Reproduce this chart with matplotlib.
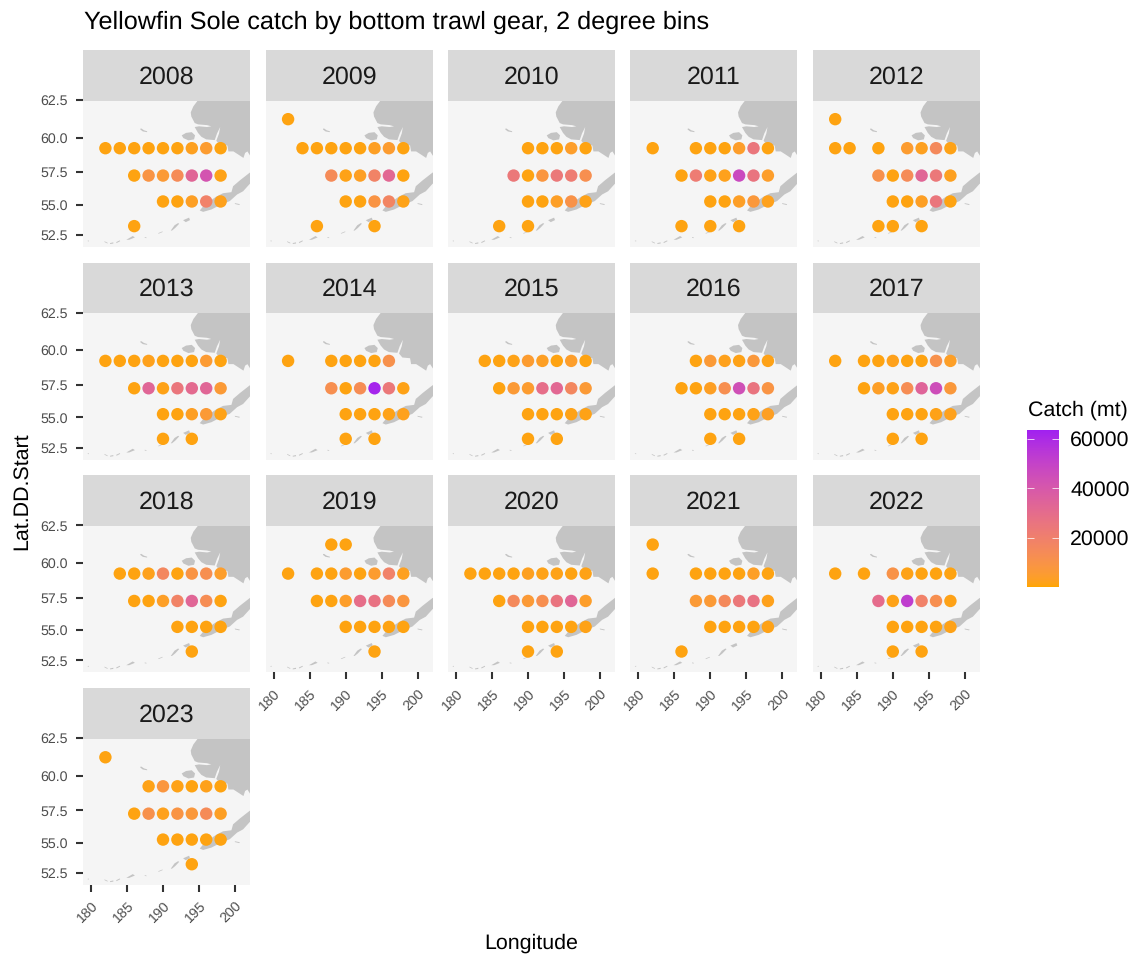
import numpy as np
import matplotlib
matplotlib.use('Agg')
import matplotlib.pyplot as plt
from matplotlib.cm import ScalarMappable
from matplotlib.colors import ListedColormap, Normalize
from matplotlib.patches import Polygon, Rectangle
from matplotlib.ticker import NullLocator

plt.rcParams['font.family'] = ['Liberation Sans', 'DejaVu Sans']
plt.rcParams['text.hinting'] = 'no_hinting'

n = np.nan
lons = [182, 184, 186, 188, 190, 192, 194, 196, 198]
lats = [61.25, 59.25, 57.25, 55.25, 53.25]
years = list(range(2008, 2024))
x_ticks = [180, 185, 190, 195, 200]
y_ticks = [52.5, 55.0, 57.5, 60.0, 62.5]
bar_ticks = [20000, 40000, 60000]

# catch (mt), rows follow lats, columns follow lons
catch_2008 = [[n, n, n, n, n, n, n, n, n],
              [1000, 1000, 1000, 1000, 1000, 1000, 2500, 5000, 1000],
              [n, n, 1000, 9000, 6000, 14000, 33000, 42000, 1500],
              [n, n, n, n, 1000, 1000, 3000, 19000, 2000],
              [n, n, 1000, n, n, n, n, n, n]]
catch_2009 = [[1000, n, n, n, n, n, n, n, n],
              [n, 1000, 1000, 1000, 1000, 1000, 3000, 5000, 1000],
              [n, n, n, 14000, 1500, 3000, 18000, 32000, 1000],
              [n, n, n, n, 1000, 1000, 9000, 17000, 1500],
              [n, n, 1000, n, n, n, 1000, n, n]]
catch_2010 = [[n, n, n, n, n, n, n, n, n],
              [n, n, n, n, 1000, 1000, 1000, 4000, 1000],
              [n, n, n, 24000, 1000, 8000, 24000, 22000, 12000],
              [n, n, n, n, 1000, 1000, 3500, 10000, 1500],
              [n, n, 1000, n, 1000, n, n, n, n]]
catch_2011 = [[n, n, n, n, n, n, n, n, n],
              [1000, n, n, 1000, 1000, 1000, 4000, 25000, 1000],
              [n, n, 1000, 22000, 1500, 2000, 47000, 26000, 4000],
              [n, n, n, n, 1000, 1000, 3500, 7000, 2000],
              [n, n, 1000, n, 1000, n, 1000, n, n]]
catch_2012 = [[1000, n, n, n, n, n, n, n, n],
              [1000, 1000, n, 1000, n, 5000, 2500, 15000, 1500],
              [n, n, n, 11000, 1000, 14000, 33000, 24000, 2500],
              [n, n, n, n, 1000, 1000, 3000, 25000, 1000],
              [n, n, n, 1000, 1000, n, 1000, n, n]]
catch_2013 = [[n, n, n, n, n, n, n, n, n],
              [1000, 1000, 1000, 2000, 1000, 1000, 1000, 5500, 1000],
              [n, n, 1000, 33000, 1500, 25000, 31000, 33000, 6000],
              [n, n, n, n, 1000, 1000, 3000, 6000, 1500],
              [n, n, n, n, 1000, n, 1000, n, n]]
catch_2014 = [[n, n, n, n, n, n, n, n, n],
              [1000, n, n, 1000, 1000, 1000, 1000, 11000, n],
              [n, n, n, 12000, 1000, 13000, 62000, 24000, 1500],
              [n, n, n, n, 1000, 1000, 1000, 1500, 2000],
              [n, n, n, n, 1000, n, 1000, n, n]]
catch_2015 = [[n, n, n, n, n, n, n, n, n],
              [n, 1000, 1000, 1500, 5000, 3000, 1000, 4000, 1000],
              [n, n, 1000, 6000, 5000, 29000, 32000, 16000, 6000],
              [n, n, n, n, 1000, 1000, 1000, 1500, 1500],
              [n, n, n, n, 1000, n, 1000, n, n]]
catch_2016 = [[n, n, n, n, n, n, n, n, n],
              [n, n, n, 1000, 6000, 2000, 1500, 7000, 1500],
              [n, n, 1000, 1000, 3000, 12000, 44000, 26000, 9000],
              [n, n, n, n, 1000, 1000, 1000, 1500, 3000],
              [n, n, n, n, 1000, n, 1000, n, n]]
catch_2017 = [[n, n, n, n, n, n, n, n, n],
              [1000, n, 1000, 1000, 2000, 1000, 1000, 11000, 3500],
              [n, n, 1000, 3500, 1500, 13000, 34000, 45000, 7000],
              [n, n, n, n, 1000, 1000, 1000, 1500, 2000],
              [n, n, n, n, 1000, n, 1000, n, n]]
catch_2018 = [[n, n, n, n, n, n, n, n, n],
              [n, 1000, 1000, 2000, 16000, 1000, 9000, 12000, 4000],
              [n, n, 1000, 1000, 3500, 18000, 33000, 13000, 1000],
              [n, n, n, n, n, 1000, 1000, 1000, 1000],
              [n, n, n, n, n, n, 1000, n, n]]
catch_2019 = [[n, n, n, 1000, 1000, n, n, n, n],
              [1000, n, 1000, 1000, 5000, 1000, 5000, 19000, 2500],
              [n, n, 1000, 1000, 4000, 29000, 27000, 14000, 8000],
              [n, n, n, n, 1000, 1000, 1000, 1000, 1000],
              [n, n, n, n, n, n, 1000, n, n]]
catch_2020 = [[n, n, n, n, n, n, n, n, n],
              [1000, 1000, 1000, 1000, 2500, 1500, 1500, 1000, 1500],
              [n, n, 1000, 15000, 6000, 12000, 26000, 33000, 4000],
              [n, n, n, n, 1000, 1000, 1000, 1000, 1500],
              [n, n, n, n, 1000, n, 1000, n, n]]
catch_2021 = [[1000, n, n, n, n, n, n, n, n],
              [1000, n, n, 1000, 1000, 1000, 1000, 3500, 1000],
              [n, n, n, 6000, 6000, 15000, 24000, 27000, 2000],
              [n, n, n, n, 1000, 1000, 1000, 1000, 1500],
              [n, n, 1000, n, n, n, n, n, n]]
catch_2022 = [[n, n, n, n, n, n, n, n, n],
              [1000, n, 1000, n, 10000, 1500, 1000, 1000, 1000],
              [n, n, n, 30000, 1500, 52000, 19000, 12000, 1500],
              [n, n, n, n, 1000, 1000, 1000, 1000, 1500],
              [n, n, n, n, 1000, n, 1000, n, n]]
catch_2023 = [[1000, n, n, n, n, n, n, n, n],
              [n, n, n, 1500, 8000, 1500, 1000, 2000, 1000],
              [n, n, 1000, 11000, 2000, 9000, 7000, 14000, 3000],
              [n, n, n, n, 1000, 1000, 1000, 1000, 1000],
              [n, n, n, n, n, n, 1000, n, n]]
catches = [catch_2008, catch_2009, catch_2010, catch_2011, catch_2012, catch_2013,
           catch_2014, catch_2015, catch_2016, catch_2017, catch_2018, catch_2019,
           catch_2020, catch_2021, catch_2022, catch_2023]

# basemap, traced by eye as (lon, lat)
mainland = [(194.87, 63.5), (194.87, 62.5), (194.22, 62.1), (193.85, 61.7), (193.93, 61.43),
            (194.4, 60.99), (194.86, 60.9), (196.11, 60.85), (196.71, 60.77), (196.11, 60.72),
            (195.0, 60.77), (194.4, 60.72), (194.86, 60.32), (195.33, 60.05), (196.0, 59.87),
            (197.18, 59.82), (197.5, 60.28), (197.94, 60.72), (197.78, 60.28), (197.4, 59.77),
            (197.87, 59.49), (198.94, 59.44), (199.08, 59.02), (199.78, 59.02), (200.47, 58.79),
            (201.17, 58.55), (201.4, 58.91), (201.72, 59.02), (202.09, 58.72), (203.5, 58.7),
            (203.5, 63.5)]
nunivak = [(192.6, 60.15), (193.2, 60.32), (193.99, 60.37), (194.45, 60.15), (194.31, 59.87),
           (193.53, 59.8), (192.83, 59.96)]
st_matthew = [(186.86, 60.61), (187.0, 60.62), (187.35, 60.5), (187.8, 60.43), (187.79, 60.37),
              (187.2, 60.42), (186.85, 60.55)]
peninsula = [(203.0, 57.6), (203.0, 57.0), (202.05, 56.62), (201.12, 56.05), (200.29, 55.8),
             (199.27, 55.28), (198.11, 55.02), (196.72, 54.61), (195.57, 54.42), (195.1, 54.53),
             (195.8, 55.02), (197.42, 55.64), (198.34, 55.9), (199.5, 55.98), (199.73, 56.44),
             (200.66, 56.88), (202.05, 57.47)]
unimak = [(191.08, 52.88), (191.6, 53.32), (192.09, 53.5), (192.25, 53.45), (191.7, 53.1),
          (191.25, 52.88)]
unalaska = [(192.79, 53.74), (193.62, 53.95), (193.75, 53.75), (193.16, 53.58)]
umnak = [(189.32, 52.66), (189.92, 52.81), (189.95, 52.76), (189.4, 52.62)]
atka = [(184.9, 52.1), (185.8, 52.42), (186.1, 52.3), (185.3, 52.1)]
seguam = [(187.46, 52.33), (187.7, 52.3), (187.7, 52.24), (187.46, 52.27)]
adak_w = [(181.85, 51.98), (182.3, 51.85), (182.3, 51.78), (181.9, 51.9)]
adak_m = [(182.65, 51.82), (183.1, 51.88), (183.1, 51.78), (182.65, 51.74)]
adak_e = [(183.5, 51.9), (184.0, 52.05), (184.05, 51.98), (183.55, 51.82)]
kiska = [(179.5, 52.0), (179.7, 52.05), (179.7, 51.95)]
sanak = [(199.96, 55.12), (200.66, 55.04), (200.6, 54.97), (200.0, 55.05)]
land = [mainland, nunivak, st_matthew, peninsula, unimak, unalaska, umnak, atka, seguam,
        adak_w, adak_m, adak_e, kiska, sanak]


def mercator(lat):
    return np.arcsinh(np.tan(np.radians(lat)))


def inv_mercator(y):
    return np.degrees(np.arctan(np.sinh(y)))


def rgb_to_lab(rgb):
    c = np.array(rgb) / 255
    c = np.where(c > 0.04045, ((c + 0.055) / 1.055) ** 2.4, c / 12.92)
    m = np.array([[0.4124, 0.3576, 0.1805], [0.2126, 0.7152, 0.0722], [0.0193, 0.1192, 0.9505]])
    xyz = m @ c / np.array([0.95047, 1.0, 1.08883])
    f = np.where(xyz > 0.008856, np.cbrt(xyz), 7.787 * xyz + 16 / 116)
    return np.array([116 * f[1] - 16, 500 * (f[0] - f[1]), 200 * (f[1] - f[2])])


def lab_to_rgb(lab):
    fy = (lab[0] + 16) / 116
    f = np.array([fy + lab[1] / 500, fy, fy - lab[2] / 200])
    xyz = np.where(f ** 3 > 0.008856, f ** 3, (f - 16 / 116) / 7.787) * np.array([0.95047, 1.0, 1.08883])
    m = np.array([[3.2406, -1.5372, -0.4986], [-0.9689, 1.8758, 0.0415], [0.0557, -0.2040, 1.0570]])
    c = np.clip(m @ xyz, 0, 1)
    c = np.where(c > 0.0031308, 1.055 * c ** (1 / 2.4) - 0.055, 12.92 * c)
    return np.clip(c, 0, 1)


# orange to purple through Lab, like the ggplot gradient
low = rgb_to_lab([255, 165, 0])
high = rgb_to_lab([160, 32, 240])
cmap = ListedColormap([lab_to_rgb(low + (high - low) * t) for t in np.linspace(0, 1, 256)])
norm = Normalize(0, 63500)

W, H = 1144, 958
fig = plt.figure(figsize=(W / 100, H / 100), dpi=100)

lefts = [83, 265.7, 448, 630.3, 812.8]
tops = [100, 312.7, 525.4, 738.1]
panel_w, panel_h, strip_h = 167, 147, 50.7

for i, year in enumerate(years):
    row, col = i // 5, i % 5
    ax = fig.add_axes([lefts[col] / W, 1 - (tops[row] + panel_h) / H, panel_w / W, panel_h / H])
    ax.set_yscale('function', functions=(mercator, inv_mercator))
    ax.set_xlim(178.89, 202.08)
    ax.set_ylim(51.48, 62.505)
    ax.set_facecolor('#F5F5F5')
    for s in ax.spines.values():
        s.set_visible(False)

    for shape in land:
        ax.add_patch(Polygon(shape, closed=True, facecolor='#C4C4C4', edgecolor='none', zorder=1))

    grid_x, grid_y = np.meshgrid(lons, lats)
    vals = np.array(catches[i], dtype=float)
    keep = ~np.isnan(vals)
    ax.scatter(grid_x[keep], grid_y[keep], c=vals[keep], cmap=cmap, norm=norm, s=80, linewidths=0, zorder=3)

    ax.add_patch(Rectangle((0, 1 - 0.7 / panel_h), 1, strip_h / panel_h, transform=ax.transAxes,
                           facecolor='#D9D9D9', edgecolor='none', clip_on=False, zorder=4))
    ax.text(0.5, 1 + 23 / panel_h, str(year), transform=ax.transAxes, ha='center', va='center',
            fontsize=18, color='#1A1A1A', zorder=5)

    ax.tick_params(axis='both', which='major', length=5.2, width=1.5, color='#333333',
                   labelcolor='#4D4D4D', labelsize=10.2)
    ax.tick_params(axis='y', pad=5.5)
    ax.tick_params(axis='x', pad=5)
    if col == 0:
        ax.set_yticks(y_ticks)
        ax.set_yticklabels(['%.1f' % v for v in y_ticks])
    else:
        ax.set_yticks([])
    ax.yaxis.set_minor_locator(NullLocator())
    if i >= len(years) - 5:
        ax.set_xticks(x_ticks)
        ax.set_xticklabels([str(v) for v in x_ticks], rotation=45, ha='right', rotation_mode='anchor')
    else:
        ax.set_xticks([])

fig.text(84 / W, 1 - 22 / H, 'Yellowfin Sole catch by bottom trawl gear, 2 degree bins', ha='left', va='center',
         fontsize=18.2, color='black')
fig.text(531 / W, 1 - 943 / H, 'Longitude', ha='center', va='center', fontsize=15.4)
fig.text(22 / W, 1 - 491 / H, 'Lat.DD.Start', ha='center', va='center', rotation=90, fontsize=15.4)

cax = fig.add_axes([1027 / W, 1 - 587 / H, 32 / W, 157 / H])
cbar = fig.colorbar(ScalarMappable(norm=norm, cmap=cmap), cax=cax, ticks=bar_ticks)
cbar.outline.set_visible(False)
cbar.ax.tick_params(direction='in', left=True, right=True, length=4.7, width=0.7, color='#FFFFFFC0',
                    labelsize=15.4, pad=8)
cbar.ax.minorticks_off()
fig.text(1028 / W, 1 - 410.5 / H, 'Catch (mt)', ha='left', va='center', fontsize=15.4)

fig.savefig('out.png', dpi=100)
